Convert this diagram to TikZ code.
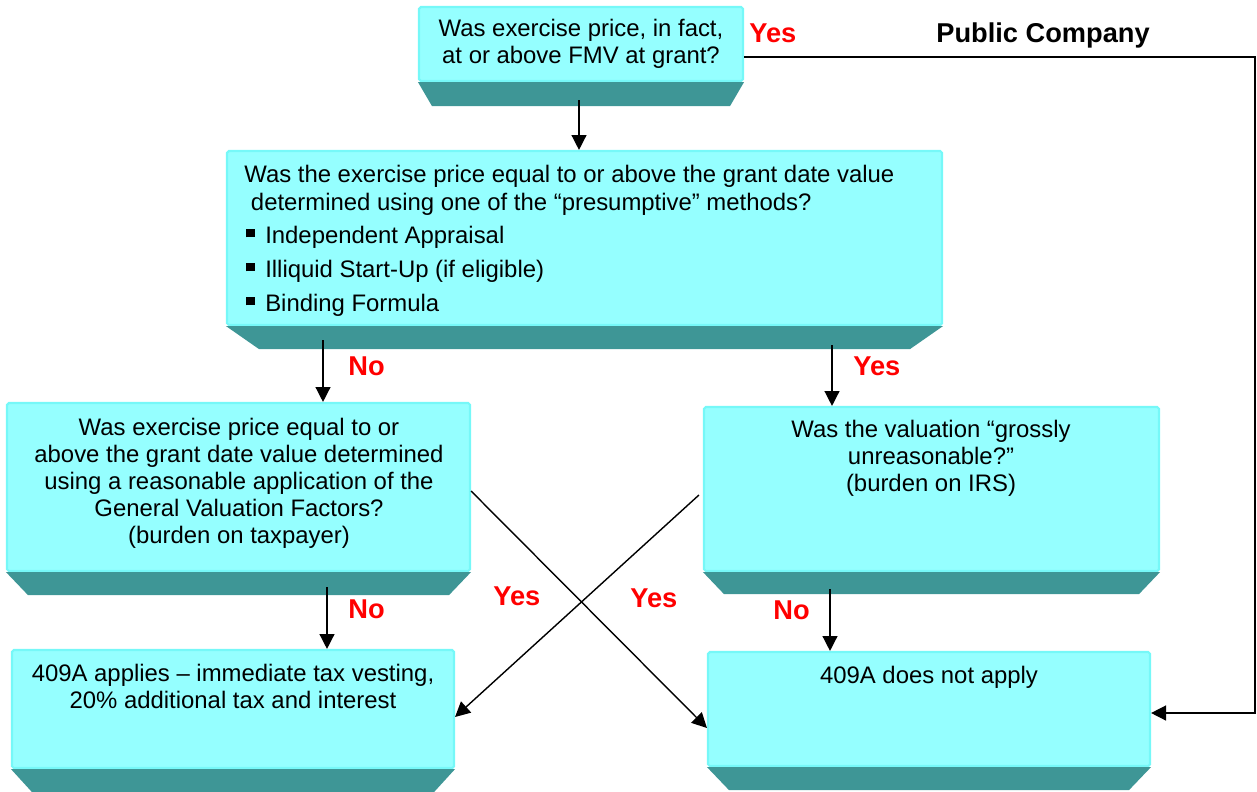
\documentclass[tikz,border=0pt]{standalone}
\usepackage{fontspec}
\setmainfont{Liberation Sans}
\usetikzlibrary{arrows.meta,fit,calc}
\definecolor{qcyan}{RGB}{149,255,255}
\definecolor{qedge}{RGB}{118,248,248}
\definecolor{qteal}{RGB}{62,150,150}
\definecolor{ansred}{RGB}{255,0,0}
% dark bottom face under a box: node, inset, depth
\newcommand{\bevel}[3]{%
  \fill[qteal] (#1.south west) -- (#1.south east) -- ++(-#2,#3) -- ($(#1.south west)+(#2,#3)$) -- cycle;}
\newcommand{\sqbul}{\hspace*{1.1pt}\rule[3.4pt]{4.8pt}{4.8pt}\hspace{6pt}}

\begin{document}
\begin{tikzpicture}[
    x=0.02cm, y=-0.02cm,
    qbox/.style={draw=qedge, line width=1.2pt, fill=qcyan, rounded corners=1pt, inner sep=0pt},
    txt/.style={font=\fontsize{13.6}{15.4}\selectfont, align=center, inner sep=0pt},
    lbl/.style={font=\fontsize{15.5}{18}\selectfont\bfseries, text=ansred, inner sep=0pt, anchor=base west},
    arr/.style={line width=0.8pt, -{Triangle[length=8.5pt,width=8.5pt]}}
]
\useasboundingbox (0,0) rectangle (1257,791);

% Boxes
\node[qbox, fit={(419,7) (743,81)}] (b1) {};
\node[qbox, fit={(227,151) (942,325)}] (b2) {};
\node[qbox, fit={(7,403) (470,571)}] (b3) {};
\node[qbox, fit={(704,407) (1159,571)}] (b4) {};
\node[qbox, fit={(12,650) (454,768)}] (b5) {};
\node[qbox, fit={(708,652) (1150,766)}] (b6) {};

\bevel{b1}{14}{24}
\bevel{b2}{33}{23}
\bevel{b3}{22}{23}
\bevel{b4}{21}{22}
\bevel{b5}{21}{23}
\bevel{b6}{22}{23}

% Texts
\node[txt] (t1) at (b1.center) {Was exercise price, in fact,\\ at or above FMV at grant?};
\node[txt, align=left, anchor=north west, font=\fontsize{13.6}{15.9}\selectfont] (t2) at (244,165)
  {Was the exercise price equal to or above the grant date value\\
   \ determined using one of the “presumptive” methods?\\[2.8pt]
   \sqbul Independent Appraisal\\[3.4pt]
   \sqbul Illiquid Start-Up (if eligible)\\[3.4pt]
   \sqbul Binding Formula};
\node[txt] (t3) at (239,483) {Was exercise price equal to or\\ above the grant date value determined\\ using a reasonable application of the\\ General Valuation Factors?\\ (burden on taxpayer)};
\node[txt] (t4) at (931,458) {Was the valuation “grossly\\ unreasonable?”\\ (burden on IRS)};
\node[txt] (t5) at (233,686) {409A applies – immediate tax vesting,\\ 20\% additional tax and interest};
\node[txt, anchor=base] (t6) at (929,683) {409A does not apply};

% Answers
\node[lbl] (y1) at (749,42) {Yes};
\node[lbl, text=black] (pub) at (936,42) {Public Company};
\node[lbl] (n1) at (348,375) {No};
\node[lbl] (y2) at (853,375) {Yes};
\node[lbl] (y3) at (493,605) {Yes};
\node[lbl] (y4) at (630,607) {Yes};
\node[lbl] (n2) at (348,618) {No};
\node[lbl] (n3) at (773,619) {No};

% Connectors
\coordinate (s1) at (579,100);
\coordinate (s2) at (323,340);
\coordinate (s3) at (832,345);
\coordinate (s4) at (327,587);
\coordinate (s5) at (830,589);
\coordinate (pubc) at (1255,57);
\draw[arr] (s1) -- (s1 |- b2.north);
\draw[arr] (s2) -- (s2 |- b3.north);
\draw[arr] (s3) -- (s3 |- b4.north);
\draw[arr] (s4) -- (s4 |- b5.north);
\draw[arr] (s5) -- (s5 |- b6.north);
\draw[arr] ($(b1.east)+(0,13)$) -- (pubc) |- ($(b6.east)+(0,4)$);
\draw[arr] ($(b3.east)+(0,4)$) -- ($(b6.west)+(0,19)$);
\draw[arr] ($(b4.west)+(-4,6)$) -- ($(b5.east)+(0,8)$);
\end{tikzpicture}
\end{document}
